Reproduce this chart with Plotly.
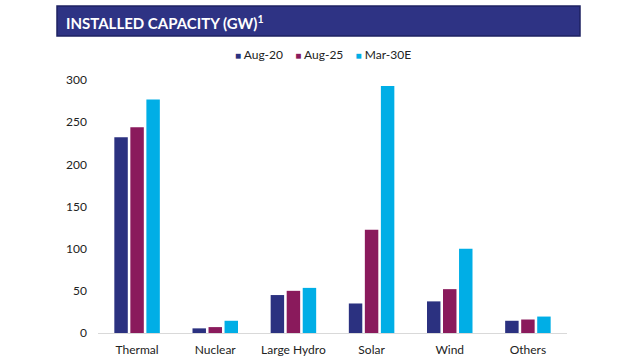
import plotly.graph_objects as go

categories = ["Thermal", "Nuclear", "Large Hydro", "Solar", "Wind", "Others"]
aug20 = [232, 5.5, 45, 35, 37.5, 14.5]
aug25 = [244, 7, 50, 122.5, 52, 16]
mar30e = [277, 14.5, 53.5, 293, 100, 19.5]
series_names = ["Aug-20", "Aug-25", "Mar-30E"]
colors = ["#2B3180", "#8A1A5C", "#00AEE6"]
yticks = [0, 50, 100, 150, 200, 250, 300]

FONT = "Lato, Open Sans, sans-serif"

fig = go.Figure()
for name, vals, col in zip(series_names, [aug20, aug25, mar30e], colors):
    fig.add_trace(go.Bar(x=categories, y=vals, name=name, marker_color=col,
                         marker_line_width=0))

fig.update_layout(
    width=640, height=360,
    margin=dict(l=98, r=73, t=80, b=27, autoexpand=False),
    paper_bgcolor="white", plot_bgcolor="white",
    barmode="group", bargap=0.385, bargroupgap=0.16,
    font=dict(family=FONT, size=12, color="#222222"),
    showlegend=False,
    xaxis=dict(showline=True, linecolor="#D9D9D9", linewidth=1, ticks="",
               ticklabelstandoff=6,
               tickfont=dict(size=12, color="#222222"), fixedrange=True),
    yaxis=dict(range=[0, 300], tickvals=yticks, showgrid=False, zeroline=False,
               showline=False, ticks="", ticklabelstandoff=10,
               tickfont=dict(size=12, color="#222222")),
)

# Custom compact legend (colored squares + series names)
sep = "&nbsp;&nbsp;&nbsp;&nbsp;"
legend_text = sep.join(
    f"<span style='color:{c};font-size:10px'>■</span> {n}"
    for n, c in zip(series_names, colors)
)
fig.add_annotation(xref="paper", yref="paper", x=(323 - 98) / 469, y=(333 - 55) / 253,
                   xanchor="center", yanchor="middle", showarrow=False,
                   text=legend_text, font=dict(family=FONT, size=12, color="#222222"))

fig.add_shape(type="rect", xref="paper", yref="paper",
              x0=(57 - 98) / 469, x1=(580 - 98) / 469,
              y0=(333 - 36) / 253, y1=(333 - 6) / 253,
              fillcolor="#2E3384", line=dict(color="#1E2262", width=1.5), layer="above")
fig.add_annotation(xref="paper", yref="paper", x=(64 - 98) / 469, y=(333 - 22) / 253,
                   xanchor="left", yanchor="middle", showarrow=False,
                   text="<b>INSTALLED CAPACITY (GW)<sup>1</sup></b>",
                   font=dict(family=FONT, size=15, color="white"))

fig.write_html("out.html", config={"displayModeBar": False},
               post_script="document.body.style.margin='0';document.body.style.padding='0';")
